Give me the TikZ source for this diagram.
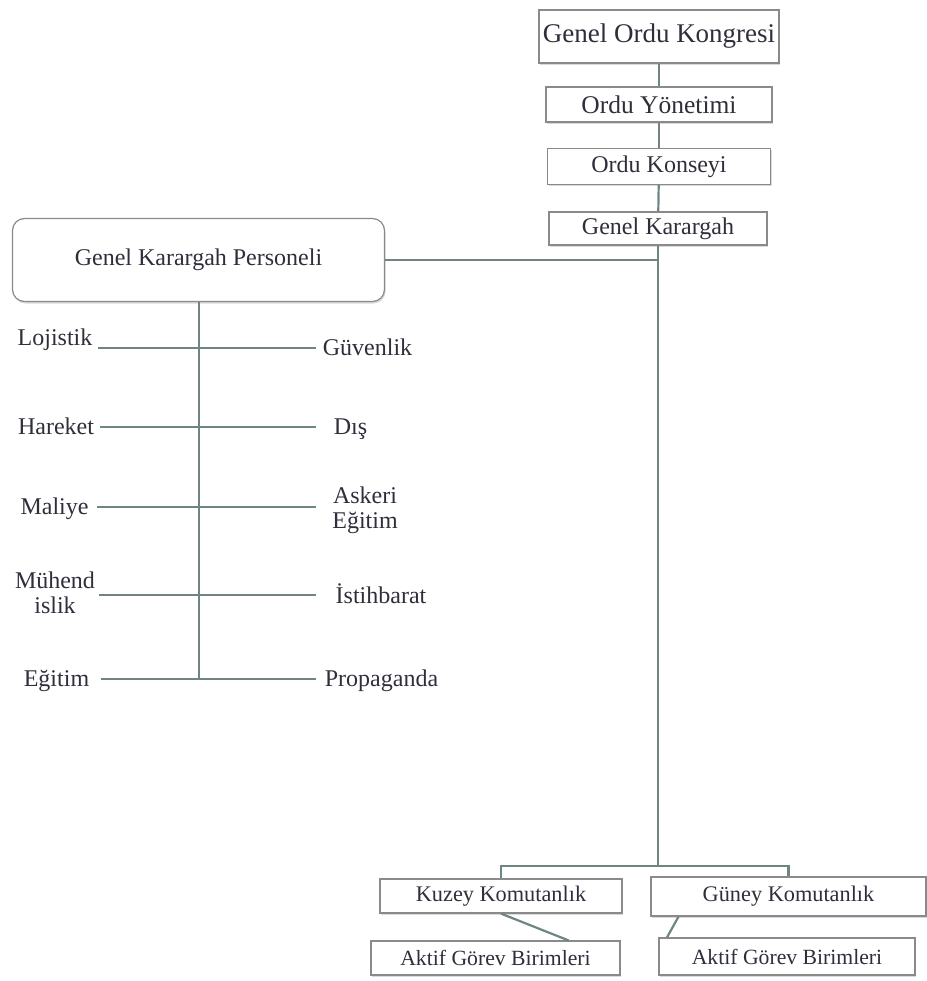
\documentclass[tikz,border=0pt]{standalone}
\usepackage{fontspec}
\setmainfont{Liberation Serif}
\usepackage{tikz}
\usetikzlibrary{shadows}

\definecolor{linkgray}{HTML}{6E8584}
\definecolor{inkgray}{HTML}{2F2F3B}
\definecolor{framegray}{HTML}{8A8A8A}

\begin{document}
\begin{tikzpicture}[x=1pt, y=-1pt,
    unit/.style={draw=framegray, line width=1.2pt, fill=white, text=inkgray,
      inner sep=0pt, drop shadow={shadow xshift=1pt, shadow yshift=-2pt, opacity=0.3}},
    dept/.style={text=inkgray, inner sep=0pt, font=\fontsize{24}{25}\selectfont, align=center},
    link/.style={draw=linkgray, line width=2.2pt}]
% Page frame
\useasboundingbox (0,0) rectangle (926,981);

% Main chain of command
\node[unit, minimum width=240, minimum height=53, font=\fontsize{27}{30}\selectfont]
  (kongre) at (659,36.5) {Genel Ordu Kongresi};
\node[unit, minimum width=226, minimum height=35, font=\fontsize{25.5}{28}\selectfont]
  (yonetim) at (659,104.5) {Ordu Yönetimi};
\node[unit, minimum width=223, minimum height=36, font=\fontsize{24}{26}\selectfont]
  (konsey) at (659,166.5) {Ordu Konseyi};
\node[unit, minimum width=218, minimum height=33, font=\fontsize{24}{26}\selectfont]
  (karargah) at (658,228.5) {Genel Karargah};

% Staff box
\node[unit, rounded corners=12pt, minimum width=372, minimum height=83, font=\fontsize{24}{26}\selectfont]
  (personel) at (198.5,260) {Genel Karargah Personeli};

% Commands
\node[unit, minimum width=242, minimum height=34, font=\fontsize{22.3}{24}\selectfont]
  (kuzey) at (501,896) {Kuzey Komutanlık};
\node[unit, minimum width=275, minimum height=39, font=\fontsize{22.3}{24}\selectfont]
  (guney) at (788.5,896.5) {Güney Komutanlık};
\node[unit, minimum width=249, minimum height=34, font=\fontsize{21.7}{24}\selectfont]
  (aktifK) at (495.5,958) {Aktif Görev Birimleri};
\node[unit, minimum width=256, minimum height=37, font=\fontsize{21.7}{24}\selectfont]
  (aktifG) at (787,956.5) {Aktif Görev Birimleri};

% Staff departments
\node[dept, anchor=base] (lojistik) at (55,345) {Lojistik};
\node[dept, anchor=base] (guvenlik) at (367.5,355) {Güvenlik};
\node[dept, anchor=base] (hareket) at (56,434) {Hareket};
\node[dept, anchor=base] (dis) at (350.5,434) {Dış};
\node[dept, anchor=base] (maliye) at (54.5,514) {Maliye};
\node[dept] (askeri) at (365,510) {Askeri\\Eğitim};
\node[dept] (muhendis) at (55,593) {Mühend\\islik};
\node[dept, anchor=base] (istihbarat) at (381,603) {İstihbarat};
\node[dept, anchor=base] (egitim) at (56.5,686) {Eğitim};
\node[dept, anchor=base] (propaganda) at (381.5,686) {Propaganda};

% Connectors of the main chain
\coordinate (split) at (658,866);
\draw[link] (kongre) -- (yonetim);
\draw[link] (yonetim) -- (konsey);
\draw[link] (konsey) -- (karargah);
\draw[link] (karargah) -- (split);
\draw[link] (personel) -- (personel -| karargah);
\draw[link] (kuzey.north) |- (split) -| (guney.north);
\draw[link] (kuzey.south) -- ([xshift=73pt]aktifK.north);
\draw[link] ([xshift=-110pt]guney.south) -- ([xshift=-120pt]aktifG.north);

% Staff rows
\coordinate (stem) at (199,679);
\draw[link] (personel.south -| stem) -- (stem);
\foreach \i/\y/\xl in {1/348/98, 2/427/100, 3/507/97, 4/595/99, 5/679/101} {
  \coordinate (l\i) at (\xl,\y);
  \coordinate (r\i) at (316,\y);
  \draw[link] (l\i) -- (r\i);
}
\end{tikzpicture}
\end{document}
